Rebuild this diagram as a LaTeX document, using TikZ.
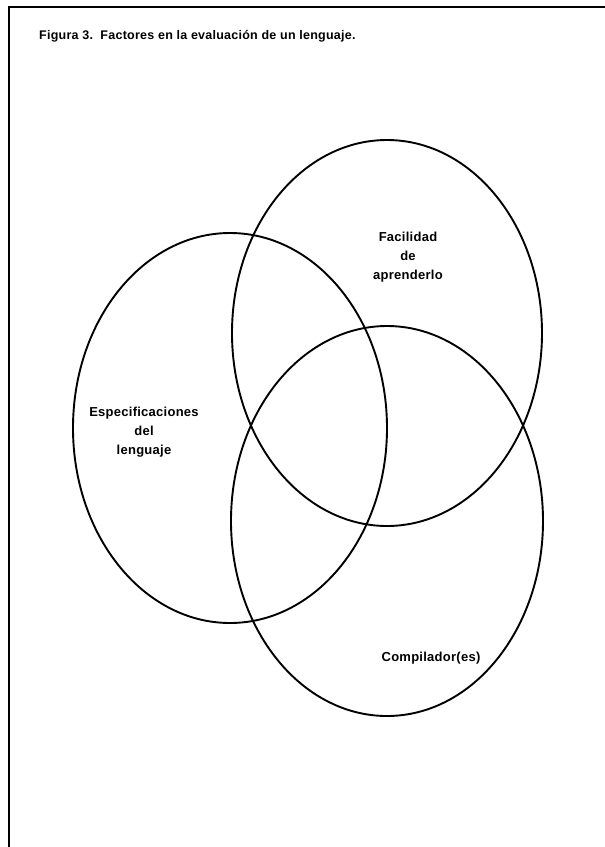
\documentclass[tikz,border=0pt]{standalone}
\usepackage{fontspec}
\setmainfont{Liberation Sans}
\usepackage{tikz}

\tikzset{
  factor/.style={line width=1.9pt},
  label/.style={align=center, font=\bfseries\fontsize{13}{19}\selectfont\addfontfeatures{LetterSpace=2}}
}

\begin{document}
\begin{tikzpicture}[x=1pt, y=-1pt]
  \useasboundingbox (0,0) rectangle (605,847);
  % Frame (only top and left edge show)
  \draw[line width=1.4pt] (605,7) -- (9,7) -- (9,847);

  % Caption
  \node[anchor=base west, inner sep=0pt, font=\bfseries\fontsize{12.5}{14}\selectfont\addfontfeatures{LetterSpace=2}] (caption) at (39,39.5)
    {Figura 3.\ \ Factores en la evaluación de un lenguaje.};

  % The three factors
  \draw[factor] (230,428) ellipse [x radius=157, y radius=195];
  \draw[factor] (387,333) ellipse [x radius=155, y radius=193];
  \draw[factor] (387,521) ellipse [x radius=156, y radius=195];

  \node[label] (espec) at (144,432.5) {Especificaciones\\del\\lenguaje};
  \node[label] (facil) at (408,257.5) {Facilidad\\de\\aprenderlo};
  \node[label] (compil) at (431,658) {Compilador(es)};
\end{tikzpicture}
\end{document}
